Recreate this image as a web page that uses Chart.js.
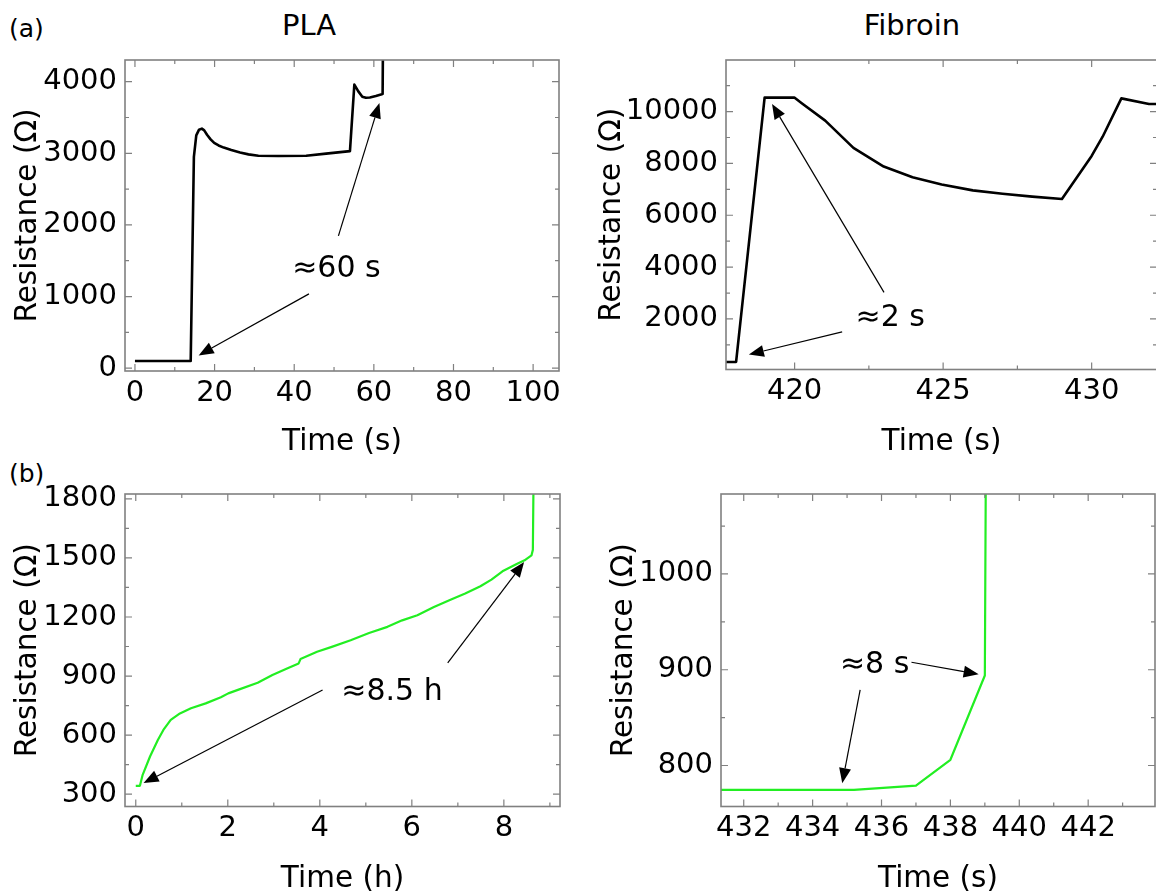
<!DOCTYPE html>
<html>
<head>
<meta charset="utf-8">
<script src="https://cdn.jsdelivr.net/npm/chart.js@4.4.0/dist/chart.umd.min.js"></script>
<style>
html,body{margin:0;padding:0;background:#fff;overflow:hidden;width:1156px;height:894px;position:relative;}
canvas{position:absolute;}
.lbl{position:absolute;font-family:"DejaVu Sans",sans-serif;color:#000;white-space:nowrap;line-height:1;}
</style>
</head>
<body>
<div class="lbl" style="left:9px;top:28px;font-size:25px;transform:translateY(-50%);">(a)</div>
<div class="lbl" style="left:9px;top:473px;font-size:25px;transform:translateY(-50%);">(b)</div>
<div class="lbl" style="left:309px;top:25px;font-size:29px;transform:translate(-50%,-50%);">PLA</div>
<div class="lbl" style="left:912px;top:25px;font-size:29px;transform:translate(-50%,-50%);">Fibroin</div>
<canvas id="c1" width="585" height="460" style="left:0px;top:0px;"></canvas>
<canvas id="c2" width="575" height="460" style="left:585px;top:0px;"></canvas>
<canvas id="c3" width="585" height="440" style="left:0px;top:460px;"></canvas>
<canvas id="c4" width="575" height="440" style="left:585px;top:460px;"></canvas>
<script>
// ---------------- data ----------------
// (a) PLA, short time scale
const plaTime = [0, 14.0, 14.8, 15.4, 16.1, 16.8, 17.4, 18.1, 19.0, 19.9, 21.0, 22.3, 24.2, 26.4, 28.5, 31.0, 36.0, 43.0, 48.0, 54.0, 55.1, 56.1, 57.1, 58.0, 59.0, 60.5, 62.0, 62.2, 62.3];
const plaRes  = [100, 100, 2950, 3250, 3330, 3345, 3320, 3260, 3195, 3145, 3110, 3080, 3045, 3010, 2985, 2965, 2962, 2965, 2995, 3030, 3960, 3865, 3790, 3775, 3780, 3800, 3825, 3830, 4600];

// (a) Fibroin, short time scale
const fibTime = [417.6, 418.03, 418.99, 419.99, 420.24, 421.03, 421.98, 423.0, 423.97, 424.95, 426.0, 427.0, 428.0, 429.0, 430.0, 430.37, 431.0, 431.93, 432.3];
const fibRes  = [340, 340, 10540, 10540, 10320, 9650, 8600, 7880, 7470, 7190, 6960, 6830, 6720, 6630, 8290, 9030, 10510, 10290, 10290];

// (b) PLA, long time scale (hours)
const plaLongTime = [0, 0.09, 0.15, 0.31, 0.48, 0.60, 0.76, 0.96, 1.20, 1.52, 1.85, 2.01, 2.25, 2.65, 2.97, 3.30, 3.54, 3.58, 3.94, 4.26, 4.67, 5.07, 5.47, 5.79, 6.12, 6.48, 6.84, 7.16, 7.49, 7.73, 7.97, 8.29, 8.45, 8.60, 8.63, 8.645];
const plaLongRes  = [342, 342, 398, 491, 575, 626, 677, 710, 736, 761, 792, 812, 832, 866, 905, 939, 964, 986, 1023, 1048, 1082, 1119, 1150, 1183, 1209, 1251, 1288, 1319, 1356, 1390, 1432, 1471, 1488, 1513, 1541, 1900];

// (b) Fibroin, long time scale
const fibLongTime = [431.0, 435.2, 437.0, 438.0, 439.0, 439.03];
const fibLongRes  = [774.6, 774.6, 779, 806, 894, 1120];

// tick labels (major) and minor tick values
const plaXTicks = [0, 20, 40, 60, 80, 100];
const plaYTicks = [0, 1000, 2000, 3000, 4000];
const plaXMinor = [10, 30, 50, 70, 90];
const plaYMinor = [500, 1500, 2500, 3500];

const fibXTicks = [420, 425, 430];
const fibYTicks = [2000, 4000, 6000, 8000, 10000];
const fibXMinor = [422.5, 427.5];
const fibYMinor = [1000, 3000, 5000, 7000, 9000, 11000];

const plaLongXTicks = [0, 2, 4, 6, 8];
const plaLongYTicks = [300, 600, 900, 1200, 1500, 1800];
const plaLongXMinor = [1, 3, 5, 7, 9];
const plaLongYMinor = [450, 750, 1050, 1350, 1650];

const fibLongXTicks = [432, 434, 436, 438, 440, 442];
const fibLongYTicks = [800, 900, 1000];
const fibLongXMinor = [433, 435, 437, 439, 441, 443];
const fibLongYMinor = [850, 950, 1050];

// annotations, in data coordinates
const plaNote = ['\u224860 s', 50.6, 1378];
const plaArrows = [[43.7, 1037, 16.0, 178], [51.1, 1846, 61.4, 3701]];
const fibNote = ['\u22482 s', 423.22, 2038];
const fibArrows = [[421.6, 1499, 418.46, 626], [423.01, 3026, 419.24, 10292]];
const plaLongNote = ['\u22488.5 h', 5.57, 817];
const plaLongArrows = [[4.06, 829, 0.17, 356], [6.78, 967, 8.44, 1479]];
const fibLongNote = ['\u22488 s', 435.80, 904.3];
const fibLongArrows = [[436.87, 907.8, 438.82, 895.3], [435.38, 879, 434.86, 781.6]];

// ---------------- drawing ----------------
Chart.defaults.font.family = '"DejaVu Sans", sans-serif';
const FONT = '"DejaVu Sans", sans-serif';

function framePlugin(cfg) {
  return {
    id: 'frame_' + cfg.id,
    afterDraw(chart) {
      const {ctx, chartArea: a, scales: {x, y}} = chart;
      ctx.save();
      ctx.strokeStyle = '#808080';
      ctx.lineWidth = 1.2;
      const MAJ = 7, MIN = 4;
      const tx = (v, len) => {
        const p = x.getPixelForValue(v);
        if (p < a.left - 0.5 || p > a.right + 0.5) return;
        ctx.beginPath();
        ctx.moveTo(p, a.bottom); ctx.lineTo(p, a.bottom - len);
        ctx.moveTo(p, a.top); ctx.lineTo(p, a.top + len);
        ctx.stroke();
      };
      const ty = (v, len) => {
        const p = y.getPixelForValue(v);
        if (p < a.top - 0.5 || p > a.bottom + 0.5) return;
        ctx.beginPath();
        ctx.moveTo(a.left, p); ctx.lineTo(a.left + len, p);
        ctx.moveTo(a.right, p); ctx.lineTo(a.right - len, p);
        ctx.stroke();
      };
      x.ticks.forEach(t => tx(t.value, MAJ));
      cfg.xMinor.forEach(v => tx(v, MIN));
      y.ticks.forEach(t => ty(t.value, MAJ));
      cfg.yMinor.forEach(v => ty(v, MIN));
      ctx.lineWidth = 1.6;
      ctx.strokeRect(a.left, a.top, a.right - a.left, a.bottom - a.top);
      ctx.restore();
    }
  };
}

function annotPlugin(cfg) {
  return {
    id: 'annot_' + cfg.id,
    afterDatasetsDraw(chart) {
      const {ctx, scales: {x, y}} = chart;
      ctx.save();
      ctx.strokeStyle = '#000';
      ctx.fillStyle = '#000';
      ctx.lineWidth = 1.2;
      cfg.arrows.forEach(([x0, y0, x1, y1]) => {
        const p0x = x.getPixelForValue(x0), p0y = y.getPixelForValue(y0);
        const p1x = x.getPixelForValue(x1), p1y = y.getPixelForValue(y1);
        const ang = Math.atan2(p1y - p0y, p1x - p0x);
        const hl = 15, hw = 6;
        const bx = p1x - hl * Math.cos(ang), by = p1y - hl * Math.sin(ang);
        ctx.beginPath(); ctx.moveTo(p0x, p0y); ctx.lineTo(bx, by); ctx.stroke();
        ctx.beginPath();
        ctx.moveTo(p1x, p1y);
        ctx.lineTo(bx + hw * Math.sin(ang), by - hw * Math.cos(ang));
        ctx.lineTo(bx - hw * Math.sin(ang), by + hw * Math.cos(ang));
        ctx.closePath(); ctx.fill();
      });
      ctx.font = '30px ' + FONT;
      ctx.textAlign = 'center';
      ctx.textBaseline = 'middle';
      const [txt, nx, ny] = cfg.note;
      ctx.fillText(txt, x.getPixelForValue(nx), y.getPixelForValue(ny));
      ctx.restore();
    }
  };
}

function makePanel(cfg) {
  const pts = cfg.xs.map((v, i) => ({x: v, y: cfg.ys[i]}));
  return new Chart(document.getElementById(cfg.id), {
    type: 'line',
    data: {datasets: [{data: pts, borderColor: cfg.color, borderWidth: cfg.lw, pointRadius: 0,
      tension: 0, fill: false, borderJoinStyle: 'round', borderCapStyle: 'butt'}]},
    options: {
      responsive: false, animation: false, events: [],
      layout: {padding: cfg.pad},
      plugins: {legend: {display: false}, tooltip: {enabled: false}},
      scales: {
        x: {
          type: 'linear', position: 'bottom', min: cfg.xMin, max: cfg.xMax,
          afterBuildTicks: s => { s.ticks = cfg.xTicks.map(v => ({value: v})); },
          afterFit: s => { s.height = cfg.hx; },
          grid: {display: false, drawTicks: false}, border: {display: false},
          ticks: {color: '#000', font: {size: 29}, padding: 5, maxRotation: 0, minRotation: 0,
            autoSkip: false, callback: v => String(v)},
          title: {display: true, text: cfg.xTitle, color: '#000', font: {size: 29.5}, padding: 0}
        },
        y: {
          type: 'linear', position: 'left', min: cfg.yMin, max: cfg.yMax,
          afterBuildTicks: s => { s.ticks = cfg.yTicks.map(v => ({value: v})); },
          afterFit: s => { s.width = cfg.wy; },
          grid: {display: false, drawTicks: false}, border: {display: false},
          ticks: {color: '#000', font: {size: 29}, padding: 8, autoSkip: false, callback: v => String(v)},
          title: {display: true, text: 'Resistance (\u03A9)', color: '#000', font: {size: 29.5}, padding: 0}
        }
      }
    },
    plugins: [annotPlugin(cfg), framePlugin(cfg)]
  });
}

const GREEN = '#22ee22';

makePanel({id: 'c1', xs: plaTime, ys: plaRes, color: '#000', lw: 2.6,
  xMin: -2.5, xMax: 106.5, yMin: -40, yMax: 4303,
  xTicks: plaXTicks, yTicks: plaYTicks, xMinor: plaXMinor, yMinor: plaYMinor,
  xTitle: 'Time (s)', note: plaNote, arrows: plaArrows,
  pad: {left: 10.3, top: 60, right: 26, bottom: 0.3}, wy: 114.7, hx: 88.7});

makePanel({id: 'c2', xs: fibTime, ys: fibRes, color: '#000', lw: 2.6,
  xMin: 417.69, xMax: 432.2, yMin: 50, yMax: 11990,
  xTicks: fibXTicks, yTicks: fibYTicks, xMinor: fibXMinor, yMinor: fibYMinor,
  xTitle: 'Time (s)', note: fibNote, arrows: fibArrows,
  pad: {left: 9.3, top: 60, right: 3, bottom: 0.3}, wy: 131.7, hx: 90.2});

makePanel({id: 'c3', xs: plaLongTime, ys: plaLongRes, color: GREEN, lw: 2.2,
  xMin: -0.234, xMax: 9.22, yMin: 237, yMax: 1825,
  xTicks: plaLongXTicks, yTicks: plaLongYTicks, xMinor: plaLongXMinor, yMinor: plaLongYMinor,
  xTitle: 'Time (h)', note: plaLongNote, arrows: plaLongArrows,
  pad: {left: 10.3, top: 34, right: 25, bottom: 3.3}, wy: 114.7, hx: 90.2});

makePanel({id: 'c4', xs: fibLongTime, ys: fibLongRes, color: GREEN, lw: 2.2,
  xMin: 431.34, xMax: 443.94, yMin: 757.2, yMax: 1083.5,
  xTicks: fibLongXTicks, yTicks: fibLongYTicks, xMinor: fibLongXMinor, yMinor: fibLongYMinor,
  xTitle: 'Time (s)', note: fibLongNote, arrows: fibLongArrows,
  pad: {left: 21.3, top: 34, right: 5, bottom: 3.3}, wy: 114.7, hx: 90.2});
</script>
</body>
</html>
